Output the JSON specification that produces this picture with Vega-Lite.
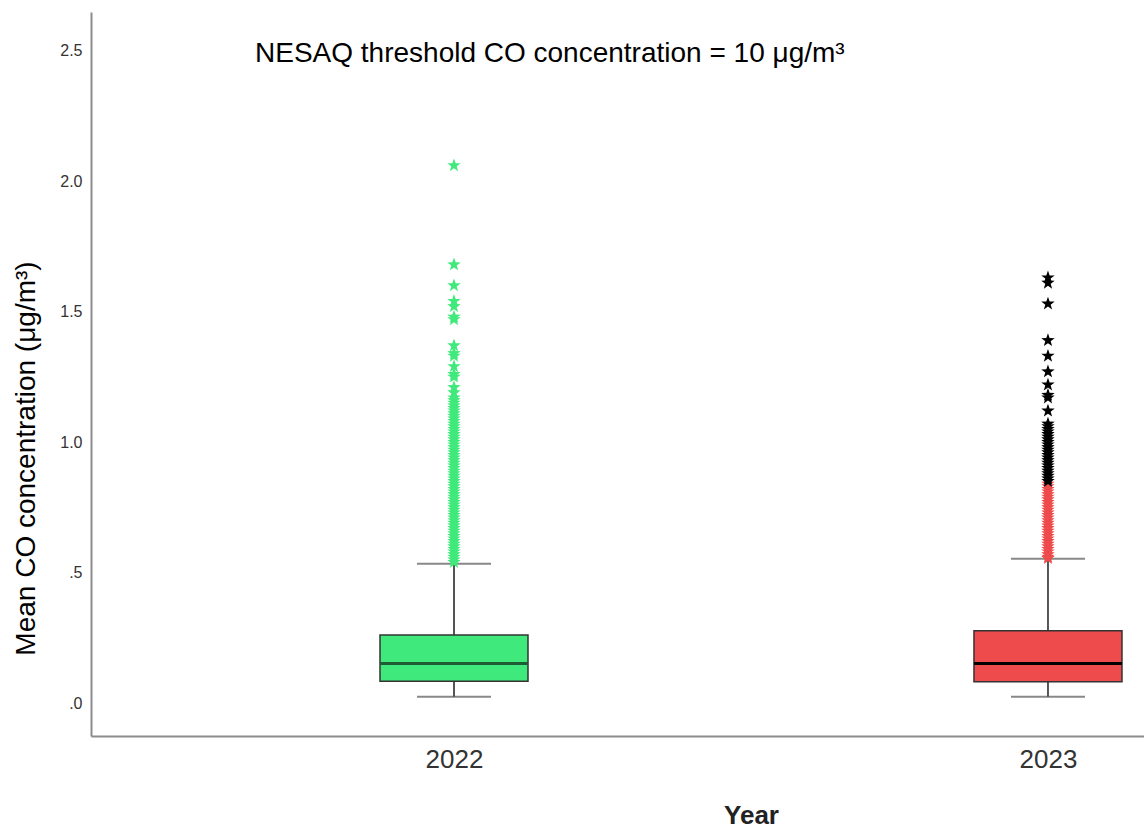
{
  "$schema": "https://vega.github.io/schema/vega-lite/v6.json",
  "width": 1053,
  "height": 724,
  "autosize": {"type": "none"},
  "padding": {"left": 91, "top": 12, "right": 0, "bottom": 93},
  "background": "white",
  "config": {
    "view": {"stroke": null},
    "font": "Liberation Sans",
    "axisY": {
      "grid": false,
      "ticks": false,
      "domainColor": "#8c8c8c",
      "domainWidth": 2,
      "labelFont": "Liberation Sans",
      "labelFontSize": 16,
      "labelColor": "#333333",
      "labelPadding": 9,
      "titleFont": "Liberation Sans",
      "titleFontSize": 28,
      "titleFontWeight": "normal",
      "titleColor": "#000000",
      "titleAngle": -90,
      "titleX": -57,
      "titleY": 446,
      "titleAlign": "center",
      "titleBaseline": "alphabetic"
    },
    "axisX": {
      "grid": false,
      "ticks": false,
      "domainColor": "#8c8c8c",
      "domainWidth": 2,
      "labelFont": "Liberation Sans",
      "labelFontSize": 26,
      "labelColor": "#333333",
      "labelPadding": 10,
      "labelAngle": 0,
      "titleFont": "Liberation Sans",
      "titleFontSize": 26,
      "titleFontWeight": "bold",
      "titleColor": "#222222",
      "titleX": 660,
      "titleY": 87,
      "titleAlign": "center",
      "titleBaseline": "alphabetic"
    }
  },
  "title": {
    "text": "NESAQ threshold CO concentration = 10 μg/m³",
    "anchor": "start",
    "frame": "group",
    "orient": "top",
    "offset": 0,
    "dx": 164,
    "dy": 78,
    "baseline": "alphabetic",
    "font": "Liberation Sans",
    "fontSize": 28,
    "fontWeight": "normal",
    "color": "#000000"
  },
  "datasets": {
    "summary": [
      {"year": "2022", "lower": 0.024, "q1": 0.084, "median": 0.152, "q3": 0.261, "upper": 0.534},
      {"year": "2023", "lower": 0.024, "q1": 0.082, "median": 0.152, "q3": 0.277, "upper": 0.553}
    ],
    "outliers": [
      {"year": "2023", "group": "2023", "value": 0.84},
      {"year": "2023", "group": "2023", "value": 0.83},
      {"year": "2023", "group": "2023", "value": 0.82},
      {"year": "2023", "group": "2023", "value": 0.81},
      {"year": "2023", "group": "2023", "value": 0.80},
      {"year": "2023", "group": "2023", "value": 0.79},
      {"year": "2023", "group": "2023", "value": 0.78},
      {"year": "2023", "group": "2023", "value": 0.77},
      {"year": "2023", "group": "2023", "value": 0.76},
      {"year": "2023", "group": "2023", "value": 0.75},
      {"year": "2023", "group": "2023", "value": 0.74},
      {"year": "2023", "group": "2023", "value": 0.73},
      {"year": "2023", "group": "2023", "value": 0.72},
      {"year": "2023", "group": "2023", "value": 0.71},
      {"year": "2023", "group": "2023", "value": 0.70},
      {"year": "2023", "group": "2023", "value": 0.69},
      {"year": "2023", "group": "2023", "value": 0.68},
      {"year": "2023", "group": "2023", "value": 0.67},
      {"year": "2023", "group": "2023", "value": 0.66},
      {"year": "2023", "group": "2023", "value": 0.65},
      {"year": "2023", "group": "2023", "value": 0.64},
      {"year": "2023", "group": "2023", "value": 0.63},
      {"year": "2023", "group": "2023", "value": 0.62},
      {"year": "2023", "group": "2023", "value": 0.61},
      {"year": "2023", "group": "2023", "value": 0.60},
      {"year": "2023", "group": "2023", "value": 0.59},
      {"year": "2023", "group": "2023", "value": 0.58},
      {"year": "2023", "group": "2023", "value": 0.57},
      {"year": "2023", "group": "2023", "value": 0.56},
      {"year": "2023", "group": "2023", "value": 0.555},
      {"year": "2023", "group": "extreme", "value": 1.63},
      {"year": "2023", "group": "extreme", "value": 1.61},
      {"year": "2023", "group": "extreme", "value": 1.53},
      {"year": "2023", "group": "extreme", "value": 1.39},
      {"year": "2023", "group": "extreme", "value": 1.33},
      {"year": "2023", "group": "extreme", "value": 1.27},
      {"year": "2023", "group": "extreme", "value": 1.22},
      {"year": "2023", "group": "extreme", "value": 1.18},
      {"year": "2023", "group": "extreme", "value": 1.17},
      {"year": "2023", "group": "extreme", "value": 1.12},
      {"year": "2023", "group": "extreme", "value": 1.07},
      {"year": "2023", "group": "extreme", "value": 1.06},
      {"year": "2023", "group": "extreme", "value": 1.05},
      {"year": "2023", "group": "extreme", "value": 1.04},
      {"year": "2023", "group": "extreme", "value": 1.03},
      {"year": "2023", "group": "extreme", "value": 1.02},
      {"year": "2023", "group": "extreme", "value": 1.01},
      {"year": "2023", "group": "extreme", "value": 1.00},
      {"year": "2023", "group": "extreme", "value": 0.99},
      {"year": "2023", "group": "extreme", "value": 0.98},
      {"year": "2023", "group": "extreme", "value": 0.97},
      {"year": "2023", "group": "extreme", "value": 0.96},
      {"year": "2023", "group": "extreme", "value": 0.95},
      {"year": "2023", "group": "extreme", "value": 0.94},
      {"year": "2023", "group": "extreme", "value": 0.93},
      {"year": "2023", "group": "extreme", "value": 0.92},
      {"year": "2023", "group": "extreme", "value": 0.91},
      {"year": "2023", "group": "extreme", "value": 0.90},
      {"year": "2023", "group": "extreme", "value": 0.89},
      {"year": "2023", "group": "extreme", "value": 0.88},
      {"year": "2023", "group": "extreme", "value": 0.87},
      {"year": "2023", "group": "extreme", "value": 0.86},
      {"year": "2023", "group": "extreme", "value": 0.85},
      {"year": "2022", "group": "2022", "value": 2.06},
      {"year": "2022", "group": "2022", "value": 1.68},
      {"year": "2022", "group": "2022", "value": 1.60},
      {"year": "2022", "group": "2022", "value": 1.54},
      {"year": "2022", "group": "2022", "value": 1.52},
      {"year": "2022", "group": "2022", "value": 1.48},
      {"year": "2022", "group": "2022", "value": 1.47},
      {"year": "2022", "group": "2022", "value": 1.37},
      {"year": "2022", "group": "2022", "value": 1.34},
      {"year": "2022", "group": "2022", "value": 1.33},
      {"year": "2022", "group": "2022", "value": 1.29},
      {"year": "2022", "group": "2022", "value": 1.26},
      {"year": "2022", "group": "2022", "value": 1.25},
      {"year": "2022", "group": "2022", "value": 1.21},
      {"year": "2022", "group": "2022", "value": 1.19},
      {"year": "2022", "group": "2022", "value": 1.17},
      {"year": "2022", "group": "2022", "value": 1.16},
      {"year": "2022", "group": "2022", "value": 1.15},
      {"year": "2022", "group": "2022", "value": 1.14},
      {"year": "2022", "group": "2022", "value": 1.13},
      {"year": "2022", "group": "2022", "value": 1.12},
      {"year": "2022", "group": "2022", "value": 1.11},
      {"year": "2022", "group": "2022", "value": 1.10},
      {"year": "2022", "group": "2022", "value": 1.09},
      {"year": "2022", "group": "2022", "value": 1.08},
      {"year": "2022", "group": "2022", "value": 1.07},
      {"year": "2022", "group": "2022", "value": 1.06},
      {"year": "2022", "group": "2022", "value": 1.05},
      {"year": "2022", "group": "2022", "value": 1.04},
      {"year": "2022", "group": "2022", "value": 1.03},
      {"year": "2022", "group": "2022", "value": 1.02},
      {"year": "2022", "group": "2022", "value": 1.01},
      {"year": "2022", "group": "2022", "value": 1.00},
      {"year": "2022", "group": "2022", "value": 0.99},
      {"year": "2022", "group": "2022", "value": 0.98},
      {"year": "2022", "group": "2022", "value": 0.97},
      {"year": "2022", "group": "2022", "value": 0.96},
      {"year": "2022", "group": "2022", "value": 0.95},
      {"year": "2022", "group": "2022", "value": 0.94},
      {"year": "2022", "group": "2022", "value": 0.93},
      {"year": "2022", "group": "2022", "value": 0.92},
      {"year": "2022", "group": "2022", "value": 0.91},
      {"year": "2022", "group": "2022", "value": 0.90},
      {"year": "2022", "group": "2022", "value": 0.89},
      {"year": "2022", "group": "2022", "value": 0.88},
      {"year": "2022", "group": "2022", "value": 0.87},
      {"year": "2022", "group": "2022", "value": 0.86},
      {"year": "2022", "group": "2022", "value": 0.85},
      {"year": "2022", "group": "2022", "value": 0.84},
      {"year": "2022", "group": "2022", "value": 0.83},
      {"year": "2022", "group": "2022", "value": 0.82},
      {"year": "2022", "group": "2022", "value": 0.81},
      {"year": "2022", "group": "2022", "value": 0.80},
      {"year": "2022", "group": "2022", "value": 0.79},
      {"year": "2022", "group": "2022", "value": 0.78},
      {"year": "2022", "group": "2022", "value": 0.77},
      {"year": "2022", "group": "2022", "value": 0.76},
      {"year": "2022", "group": "2022", "value": 0.75},
      {"year": "2022", "group": "2022", "value": 0.74},
      {"year": "2022", "group": "2022", "value": 0.73},
      {"year": "2022", "group": "2022", "value": 0.72},
      {"year": "2022", "group": "2022", "value": 0.71},
      {"year": "2022", "group": "2022", "value": 0.70},
      {"year": "2022", "group": "2022", "value": 0.69},
      {"year": "2022", "group": "2022", "value": 0.68},
      {"year": "2022", "group": "2022", "value": 0.67},
      {"year": "2022", "group": "2022", "value": 0.66},
      {"year": "2022", "group": "2022", "value": 0.65},
      {"year": "2022", "group": "2022", "value": 0.64},
      {"year": "2022", "group": "2022", "value": 0.63},
      {"year": "2022", "group": "2022", "value": 0.62},
      {"year": "2022", "group": "2022", "value": 0.61},
      {"year": "2022", "group": "2022", "value": 0.60},
      {"year": "2022", "group": "2022", "value": 0.59},
      {"year": "2022", "group": "2022", "value": 0.58},
      {"year": "2022", "group": "2022", "value": 0.57},
      {"year": "2022", "group": "2022", "value": 0.56},
      {"year": "2022", "group": "2022", "value": 0.55},
      {"year": "2022", "group": "2022", "value": 0.54}
    ]
  },
  "encoding": {
    "x": {
      "field": "year",
      "type": "nominal",
      "title": "Year",
      "scale": {"type": "point", "domain": ["2022", "2023"], "padding": 0.3864, "align": 0.7908}
    }
  },
  "layer": [
    {
      "data": {"name": "summary"},
      "mark": {"type": "rule", "color": "#555555", "strokeWidth": 2},
      "encoding": {
        "y": {
          "field": "lower",
          "type": "quantitative",
          "title": "Mean CO concentration (μg/m³)",
          "scale": {"domain": [-0.126, 2.648], "nice": false, "zero": false},
          "axis": {
            "values": [0, 0.5, 1, 1.5, 2, 2.5],
            "labelExpr": "datum.value < 1 ? substring(format(datum.value, '.1f'), 1) : format(datum.value, '.1f')"
          }
        },
        "y2": {"field": "upper"}
      }
    },
    {
      "data": {"name": "summary"},
      "mark": {"type": "tick", "color": "#555555", "size": 74, "thickness": 2, "orient": "horizontal"},
      "encoding": {
        "y": {"field": "lower", "type": "quantitative", "title": "Mean CO concentration (μg/m³)", "scale": {"domain": [-0.126, 2.648], "nice": false, "zero": false}}
      }
    },
    {
      "data": {"name": "summary"},
      "mark": {"type": "tick", "color": "#555555", "size": 74, "thickness": 2, "orient": "horizontal"},
      "encoding": {
        "y": {"field": "upper", "type": "quantitative", "title": "Mean CO concentration (μg/m³)", "scale": {"domain": [-0.126, 2.648], "nice": false, "zero": false}}
      }
    },
    {
      "data": {"name": "summary"},
      "mark": {"type": "bar", "size": 148, "stroke": "#333333", "strokeWidth": 1.5},
      "encoding": {
        "y": {"field": "q1", "type": "quantitative", "title": "Mean CO concentration (μg/m³)", "scale": {"domain": [-0.126, 2.648], "nice": false, "zero": false}},
        "y2": {"field": "q3"},
        "color": {
          "field": "year",
          "type": "nominal",
          "legend": null,
          "scale": {"domain": ["2022", "2023", "extreme"], "range": ["#40E97B", "#EE4B4D", "#000000"]}
        }
      }
    },
    {
      "data": {"name": "summary"},
      "mark": {"type": "tick", "size": 148, "thickness": 3, "orient": "horizontal", "opacity": 1},
      "encoding": {
        "y": {"field": "median", "type": "quantitative", "title": "Mean CO concentration (μg/m³)", "scale": {"domain": [-0.126, 2.648], "nice": false, "zero": false}},
        "color": {
          "condition": {"test": "datum.year === '2022'", "value": "#1F5C36"},
          "value": "#000000"
        }
      }
    },
    {
      "data": {"name": "outliers"},
      "mark": {
        "type": "point",
        "filled": true,
        "opacity": 1,
        "size": 200,
        "strokeWidth": 0,
        "shape": "M0,-1L0.235,-0.324L0.951,-0.309L0.38,0.124L0.588,0.809L0,0.4L-0.588,0.809L-0.38,0.124L-0.951,-0.309L-0.235,-0.324Z"
      },
      "encoding": {
        "y": {"field": "value", "type": "quantitative", "title": "Mean CO concentration (μg/m³)", "scale": {"domain": [-0.126, 2.648], "nice": false, "zero": false}},
        "color": {
          "field": "group",
          "type": "nominal",
          "legend": null,
          "scale": {"domain": ["2022", "2023", "extreme"], "range": ["#40E97B", "#EE4B4D", "#000000"]}
        }
      }
    }
  ]
}
